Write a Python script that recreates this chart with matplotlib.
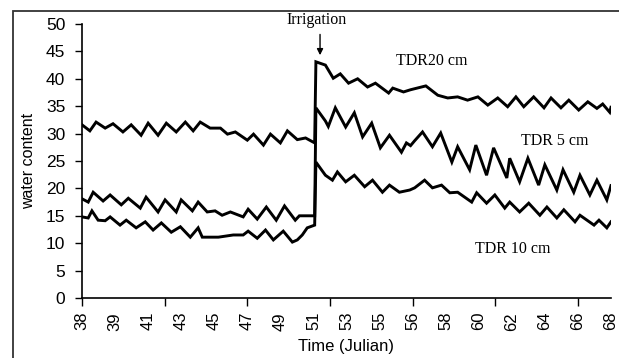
import numpy as np
import matplotlib
matplotlib.use("Agg")
import matplotlib.pyplot as plt
from matplotlib.patches import Rectangle

plt.rcParams['font.family'] = ['Liberation Sans', 'DejaVu Sans']

# x positions are sample indices along the category axis (0..128)
# TDR 20 cm
x20 = [0, 1.9, 3.4, 5.6, 7.5, 9.9, 11.9, 14.3, 16.0, 18.4, 20.4, 22.8, 25.0, 26.9,
       28.6, 31.0, 33.5, 35.2, 37.1, 40.0, 41.5, 43.9, 45.6, 48.0, 49.7, 52.1, 54.1,
       56.3,
       56.6, 58.9, 60.8, 62.5, 64.5, 66.7, 69.1, 71.0, 74.2, 75.2, 77.8, 79.5, 83.2,
       86.1, 88.5, 90.9, 93.3, 95.8, 98.2, 100.6, 103.0, 105.0, 106.9, 109.3, 111.8,
       113.5, 115.9, 117.8, 120.2, 122.4, 124.6, 126.0, 127.7, 128]
y20 = [31.6, 30.5, 32.1, 31.0, 31.8, 30.3, 31.6, 29.7, 31.9, 29.7, 31.9, 30.3, 32.1, 30.5,
       32.1, 31.0, 31.0, 29.9, 30.3, 28.8, 29.9, 27.9, 29.9, 28.3, 30.5, 28.9, 29.2,
       28.3,
       43.1, 42.5, 40.1, 40.9, 39.2, 40.0, 38.5, 39.2, 37.4, 38.3, 37.6, 38.0, 38.7,
       37.0, 36.5, 36.7, 36.1, 36.7, 35.2, 36.5, 34.9, 36.7, 34.9, 36.7, 34.7,
       36.5, 34.7, 36.1, 34.3, 35.8, 34.6, 35.4, 33.9, 34.8]

# TDR 5 cm
x5 = [0, 1.5, 2.7, 5.1, 6.8, 9.5, 11.2, 14.1, 15.5, 18.4, 20.1, 22.8, 24.0, 26.7,
      28.1, 30.3, 32.2, 33.9, 35.9, 39.0, 40.2, 42.4, 44.6, 47.0, 49.0, 51.6, 52.6,
      56.3,
      56.6, 58.9, 59.6, 61.3, 63.8, 65.9, 67.9, 70.1, 72.2, 74.4, 77.3, 78.5, 79.5,
      80.5, 82.4, 84.8, 86.8, 89.5, 90.9, 93.8, 95.3, 97.9, 99.6, 102.8, 103.5, 105.9,
      107.9, 110.5, 112.0, 114.9, 116.4, 119.0, 120.5, 122.9, 124.6, 127.0, 128]
y5 = [18.1, 17.5, 19.3, 17.7, 18.8, 17.0, 18.2, 16.4, 18.4, 15.7, 17.9, 15.7, 17.9, 15.9,
      17.5, 15.7, 15.9, 15.1, 15.7, 14.8, 16.2, 14.4, 16.6, 14.2, 16.8, 14.2, 15.0,
      15.0,
      34.7, 32.3, 31.3, 34.7, 31.2, 33.8, 29.4, 31.9, 27.4, 29.7, 26.6, 28.3, 27.8,
      28.7, 30.3, 27.6, 30.1, 24.8, 27.6, 23.4, 27.9, 22.4, 27.4, 21.9, 25.5, 21.2,
      25.5, 20.6, 24.3, 19.7, 23.4, 19.3, 22.4, 18.8, 21.5, 17.9, 20.5]

# TDR 10 cm
x10 = [0, 1.5, 2.4, 3.9, 5.6, 6.8, 9.2, 10.7, 13.1, 15.3, 17.2, 19.2, 21.6, 23.8,
       26.2, 28.1, 29.1, 33.0, 36.6, 39.0, 40.2, 42.4, 44.4, 46.3, 48.7, 50.9, 52.1,
       53.3, 54.5, 56.3,
       56.6, 58.9, 60.6, 61.8, 63.8, 65.9, 68.4, 70.3, 72.7, 74.4, 76.8, 79.3, 80.5,
       82.9, 84.8, 87.0, 89.0, 90.9, 94.3, 95.5, 97.9, 99.9, 102.3, 103.5, 105.9,
       108.1, 110.8, 112.5, 114.9, 116.6, 119.3, 120.5, 123.9, 125.1, 127.0, 128]
y10 = [14.8, 14.6, 15.9, 14.2, 14.1, 14.8, 13.3, 14.2, 12.8, 13.9, 12.4, 13.7, 12.0, 13.0,
       11.1, 12.8, 11.1, 11.1, 11.5, 11.5, 12.2, 10.9, 12.4, 10.6, 12.2, 10.2, 10.6,
       11.5, 12.8, 13.3,
       24.8, 22.4, 21.5, 23.0, 21.2, 22.4, 20.3, 21.5, 19.3, 20.6, 19.3, 19.7, 20.1,
       21.5, 20.1, 20.6, 19.2, 19.3, 17.5, 19.2, 17.3, 18.8, 16.4, 17.5, 15.7,
       17.3, 15.1, 16.6, 14.6, 16.1, 13.9, 15.1, 13.3, 14.2, 12.8, 13.9]

day_labels = ['38', '39', '41', '43', '45', '47', '49', '51', '53', '55', '56',
              '58', '60', '62', '64', '66', '68']

fig = plt.figure(figsize=(6.19, 3.58), dpi=100)
ax = fig.add_axes([0.1325, 0.1676, 0.8545, 0.7654])

for xs, ys in [(x20, y20), (x5, y5), (x10, y10)]:
    ax.plot(xs, ys, color='black', lw=2.1, solid_joinstyle='miter')

ax.set_xlim(0, 128)
ax.set_ylim(0, 50)
ax.set_yticks(np.arange(0, 51, 5))
ax.tick_params(axis='y', direction='out', length=5, width=1, labelsize=12.5, pad=7)

# labels every 8 samples, tick marks every 20
ax.xaxis.remove_overlapping_locs = False
ax.set_xticks(np.arange(0, 129, 8))
ax.set_xticklabels(day_labels, rotation=90, fontsize=12)
ax.tick_params(axis='x', which='major', length=0, pad=10)
ax.set_xticks(np.arange(0, 121, 20), minor=True)
ax.tick_params(axis='x', which='minor', direction='out', length=6, width=1)

for s in ['top', 'right']:
    ax.spines[s].set_visible(False)
for s in ['left', 'bottom']:
    ax.spines[s].set_linewidth(1.2)

ax.set_ylabel('water content', fontsize=11.5, labelpad=7)
ax.set_xlabel('Time (Julian)', fontsize=12, labelpad=6)

serif = 'Liberation Serif'
ax.annotate('', xy=(57.6, 43.8), xytext=(57.6, 48.6),
            arrowprops=dict(arrowstyle='-|>', color='black', lw=1, mutation_scale=9),
            annotation_clip=False)
ax.text(56.8, 50.8, 'Irrigation', fontsize=11.5, family=serif, ha='center',
        va='center', clip_on=False)
ax.text(76.0, 43.3, 'TDR20 cm', fontsize=11.5, family=serif, ha='left', va='center')
ax.text(106.2, 28.6, 'TDR 5 cm', fontsize=11.5, family=serif, ha='left', va='center')
ax.text(95.0, 8.9, 'TDR 10 cm', fontsize=11.5, family=serif, ha='left', va='center')

# outer frame of the chart
fig.patches.append(Rectangle((13 / 619, -0.1), 1.2, 1 - 11 / 358 + 0.1,
                             transform=fig.transFigure, fill=False,
                             edgecolor='#333333', lw=1.3))

fig.savefig('out.png', dpi=100)
